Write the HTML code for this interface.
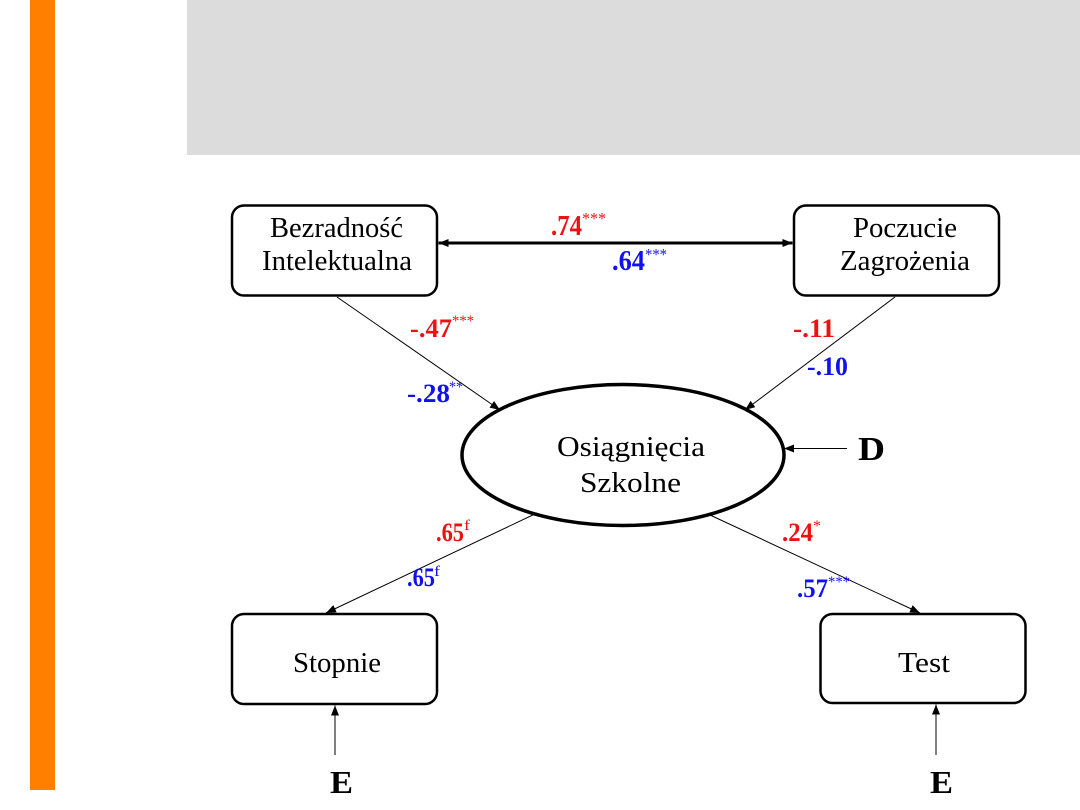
<!DOCTYPE html>
<html>
<head>
<meta charset="utf-8">
<style>
html,body{margin:0;padding:0;background:#ffffff;}
svg{display:block;}
text{font-family:"Liberation Serif","DejaVu Serif",serif;}
</style>
</head>
<body>
<svg width="1080" height="810" viewBox="0 0 1080 810" xmlns="http://www.w3.org/2000/svg">
<defs>
<marker id="ah" viewBox="0 0 10 8" refX="10" refY="4" markerWidth="10" markerHeight="8" markerUnits="userSpaceOnUse" orient="auto-start-reverse">
<path d="M0,0 L10,4 L0,8 z" fill="#000"/>
</marker>
</defs>
<rect x="0" y="0" width="1080" height="810" fill="#ffffff"/>
<rect x="30" y="0" width="25" height="790" fill="#ff7f00"/>
<rect x="187" y="0" width="893" height="155" fill="#dcdcdc"/>

<!-- boxes -->
<rect x="232" y="205.5" width="205" height="90" rx="12" ry="12" fill="#fff" stroke="#000" stroke-width="2.5"/>
<rect x="794" y="205.5" width="205" height="90" rx="12" ry="12" fill="#fff" stroke="#000" stroke-width="2.5"/>
<rect x="232" y="614" width="205" height="90" rx="12" ry="12" fill="#fff" stroke="#000" stroke-width="2.5"/>
<rect x="820.5" y="614" width="205" height="89" rx="12" ry="12" fill="#fff" stroke="#000" stroke-width="2.5"/>
<ellipse cx="623" cy="455" rx="161" ry="70.5" fill="#fff" stroke="#000" stroke-width="3.5"/>

<!-- connectors -->
<line x1="438.5" y1="243" x2="792.5" y2="243" stroke="#000" stroke-width="3" marker-start="url(#ah)" marker-end="url(#ah)"/>
<line x1="337" y1="297" x2="500" y2="410" stroke="#000" stroke-width="1" marker-end="url(#ah)"/>
<line x1="895" y1="297" x2="745" y2="410" stroke="#000" stroke-width="1" marker-end="url(#ah)"/>
<line x1="537" y1="513" x2="326" y2="613" stroke="#000" stroke-width="1" marker-end="url(#ah)"/>
<line x1="710" y1="515" x2="920" y2="613" stroke="#000" stroke-width="1" marker-end="url(#ah)"/>
<line x1="847" y1="448.5" x2="784" y2="448.5" stroke="#000" stroke-width="1" marker-end="url(#ah)"/>
<line x1="335" y1="755" x2="335" y2="705.5" stroke="#000" stroke-width="1" marker-end="url(#ah)"/>
<line x1="936" y1="755" x2="936" y2="704.5" stroke="#000" stroke-width="1" marker-end="url(#ah)"/>

<!-- node labels -->
<g font-size="28" fill="#000">
<text x="270" y="237" textLength="133" lengthAdjust="spacingAndGlyphs">Bezradność</text>
<text x="262" y="270" textLength="150" lengthAdjust="spacingAndGlyphs">Intelektualna</text>
<text x="853" y="237" textLength="104" lengthAdjust="spacingAndGlyphs">Poczucie</text>
<text x="840" y="270" textLength="130" lengthAdjust="spacingAndGlyphs">Zagrożenia</text>
<text x="557" y="456" textLength="148" lengthAdjust="spacingAndGlyphs">Osiągnięcia</text>
<text x="580" y="492" textLength="101" lengthAdjust="spacingAndGlyphs">Szkolne</text>
<text x="293" y="672" textLength="88" lengthAdjust="spacingAndGlyphs">Stopnie</text>
<text x="898" y="672" textLength="52" lengthAdjust="spacingAndGlyphs">Test</text>
</g>
<g font-weight="bold" fill="#000">
<text x="858" y="460" font-size="34" textLength="27" lengthAdjust="spacingAndGlyphs">D</text>
<text x="330" y="793" font-size="32" textLength="23" lengthAdjust="spacingAndGlyphs">E</text>
<text x="930" y="793" font-size="32" textLength="23" lengthAdjust="spacingAndGlyphs">E</text>
</g>

<!-- coefficients red -->
<g fill="#ee1111">
<text x="551" y="235" font-size="29" font-weight="bold" textLength="31" lengthAdjust="spacingAndGlyphs">.74</text>
<text x="582" y="224" font-size="17" textLength="24" lengthAdjust="spacingAndGlyphs">***</text>
<text x="410" y="337" font-size="26" font-weight="bold" textLength="42" lengthAdjust="spacingAndGlyphs">-.47</text>
<text x="452" y="326" font-size="16" textLength="22" lengthAdjust="spacingAndGlyphs">***</text>
<text x="793" y="337" font-size="26" font-weight="bold" textLength="42" lengthAdjust="spacingAndGlyphs">-.11</text>
<text x="436" y="541" font-size="26" font-weight="bold" textLength="28" lengthAdjust="spacingAndGlyphs">.65</text>
<text x="464" y="530" font-size="15" textLength="6" lengthAdjust="spacingAndGlyphs">f</text>
<text x="782" y="541" font-size="26" font-weight="bold" textLength="31" lengthAdjust="spacingAndGlyphs">.24</text>
<text x="813" y="531" font-size="16" textLength="8" lengthAdjust="spacingAndGlyphs">*</text>
</g>
<!-- coefficients blue -->
<g fill="#1111ee">
<text x="612" y="270" font-size="29" font-weight="bold" textLength="33" lengthAdjust="spacingAndGlyphs">.64</text>
<text x="645" y="260" font-size="17" textLength="22" lengthAdjust="spacingAndGlyphs">***</text>
<text x="407" y="402" font-size="26" font-weight="bold" textLength="43" lengthAdjust="spacingAndGlyphs">-.28</text>
<text x="449" y="392" font-size="16" textLength="14" lengthAdjust="spacingAndGlyphs">**</text>
<text x="807" y="375" font-size="26" font-weight="bold" textLength="41" lengthAdjust="spacingAndGlyphs">-.10</text>
<text x="407" y="586" font-size="26" font-weight="bold" textLength="28" lengthAdjust="spacingAndGlyphs">.65</text>
<text x="434" y="576" font-size="15" textLength="6" lengthAdjust="spacingAndGlyphs">f</text>
<text x="797" y="597" font-size="26" font-weight="bold" textLength="31" lengthAdjust="spacingAndGlyphs">.57</text>
<text x="828" y="587" font-size="16" textLength="22" lengthAdjust="spacingAndGlyphs">***</text>
</g>
</svg>
</body>
</html>
